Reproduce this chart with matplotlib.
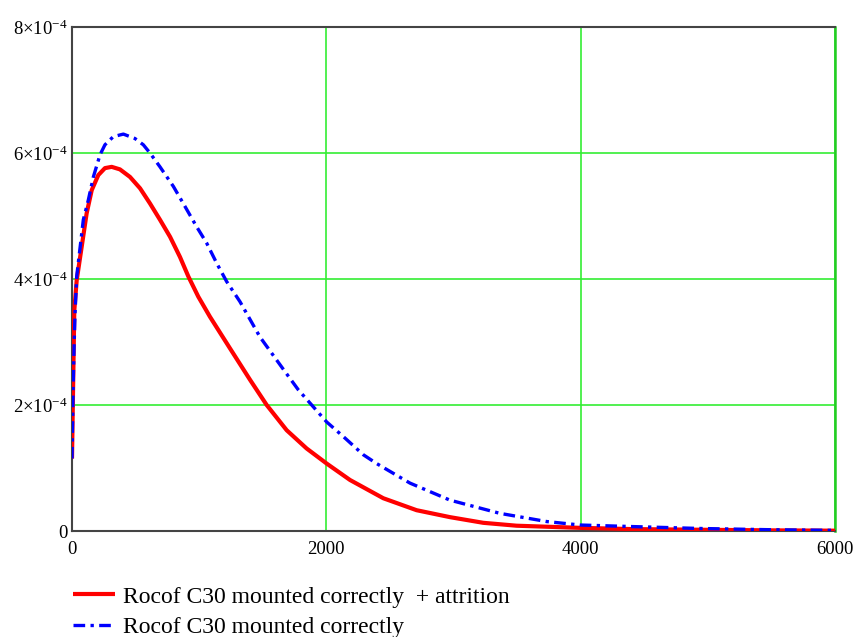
import matplotlib
matplotlib.use("Agg")
import matplotlib.pyplot as plt
import numpy as np

# ---- data (y in units of 1e-4) ----
red_x = [0, 8, 18, 37, 76, 115, 155, 207, 259, 312, 377, 456, 535, 613,
         692, 771, 849, 915, 993, 1085, 1242, 1400, 1531, 1688, 1845, 2003,
         2186, 2448, 2710, 2972, 3234, 3496, 3995, 4412, 4938, 5500, 6000]
red_y = [1.15, 2.2, 3.5, 3.98, 4.51, 5.04, 5.41, 5.65, 5.76, 5.78, 5.74,
         5.62, 5.44, 5.20, 4.94, 4.67, 4.35, 4.04, 3.72, 3.40, 2.9, 2.40,
         2.0, 1.60, 1.31, 1.07, 0.81, 0.52, 0.33, 0.22, 0.13, 0.084, 0.05,
         0.03, 0.02, 0.01, 0.005]

blue_x = [0, 8, 16, 24, 37, 89, 128, 168, 220, 259, 325, 404, 495, 561, 613,
          692, 797, 889, 980, 1059, 1138, 1216, 1321, 1478, 1675, 1780, 1898,
          2003, 2133, 2291, 2396, 2658, 2972, 3365, 3733, 3995, 4412, 4938,
          5500, 6000]
blue_y = [1.15, 2.2, 2.9, 3.46, 4.04, 4.94, 5.25, 5.62, 5.97, 6.13, 6.26,
          6.30, 6.23, 6.13, 6.0, 5.78, 5.47, 5.15, 4.83, 4.57, 4.25, 3.96,
          3.64, 3.08, 2.53, 2.24, 1.97, 1.73, 1.50, 1.21, 1.07, 0.76, 0.49,
          0.28, 0.15, 0.095, 0.07, 0.04, 0.02, 0.01]

labels = ["Rocof C30 mounted correctly  + attrition",
          "Rocof C30 mounted correctly"]

x_ticks = [0, 2000, 4000, 6000]
y_ticks = [0, 2, 4, 6, 8]
y_tick_labels = ["0"] + [r"$%d{\times}10^{-4}$" % v for v in y_ticks[1:]]

plt.rcParams["font.family"] = ["Liberation Serif", "DejaVu Serif"]
plt.rcParams["mathtext.fontset"] = "custom"
plt.rcParams["mathtext.rm"] = "Liberation Serif"
plt.rcParams["mathtext.it"] = "Liberation Serif:italic"

fig = plt.figure(figsize=(8.58, 6.37), dpi=100)
ax = fig.add_axes([72 / 858, 1 - 531 / 637, 763 / 858, 504 / 637])

scale = 1e-4
ax.plot(red_x, np.array(red_y) * scale, color="#ff0000", lw=3.0,
        solid_joinstyle="round", solid_capstyle="butt",
        label=labels[0], zorder=3)
ax.plot(blue_x, np.array(blue_y) * scale, color="#0000ff", lw=2.4,
        dashes=(3.5, 1.6, 1.0, 1.6), dash_joinstyle="round",
        label=labels[1], zorder=4)

ax.set_xlim(0, 6000)
ax.set_ylim(0, 8 * scale)
ax.set_xticks(x_ticks)
ax.set_xticklabels([str(v) for v in x_ticks])
ax.set_yticks([v * scale for v in y_ticks])
ax.set_yticklabels(y_tick_labels)
ax.tick_params(axis="x", length=0, labelsize=13.5, colors="black", pad=7)
ax.tick_params(axis="y", length=0, labelsize=13.5, colors="black", pad=3)

ax.grid(True, color="#33ee33", lw=1.2)
ax.set_axisbelow(True)
for side in ["left", "top", "bottom"]:
    ax.spines[side].set_color("#444444")
    ax.spines[side].set_linewidth(1.5)
ax.spines["right"].set_color("#22cc22")
ax.spines["right"].set_linewidth(1.8)

fig.legend(loc="upper left", bbox_to_anchor=(73 / 858, 1 - 586 / 637),
           frameon=False, fontsize=17, handlelength=1.78, handletextpad=0.34,
           labelspacing=0.38, borderpad=0, borderaxespad=0)

fig.savefig("out.png", dpi=100)
